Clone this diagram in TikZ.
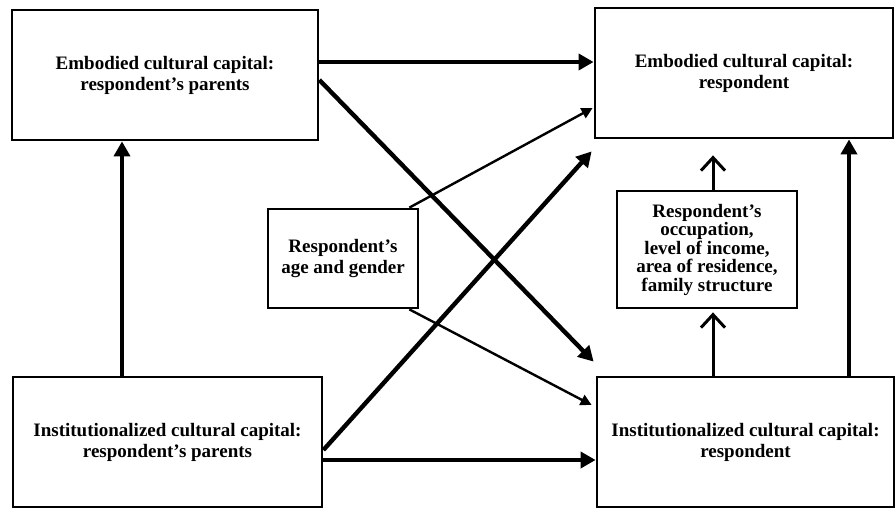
\documentclass[tikz,border=0pt]{standalone}
\usepackage{fontspec}
\setmainfont{Liberation Serif}
\usetikzlibrary{arrows.meta,positioning,calc}
\tikzstyle{capitalbox}=[draw,line width=2.8pt,align=center,font=\bfseries\fontsize{19}{21}\selectfont]
\tikzstyle{thickarc}=[line width=4.4pt,-{Triangle[length=15pt,width=16pt]}]
\tikzstyle{thinarc}=[line width=2.4pt,-{Triangle[length=11pt,width=11pt]}]
\tikzstyle{openarc}=[line width=3pt,-{Straight Barb[length=13pt,width=24pt]}]

\begin{document}
\begin{tikzpicture}[x=1pt,y=-1pt]
\useasboundingbox (0,0) rectangle (896,511);

\node[capitalbox,minimum width=306pt,minimum height=130pt] (B1) at (165,75) {Embodied cultural capital:\\respondent’s parents};
\node[capitalbox,minimum width=298pt,minimum height=130pt] (B2) at (744,73) {Embodied cultural capital:\\respondent};
\node[capitalbox,minimum width=309pt,minimum height=130pt] (B3) at (167.5,442) {Institutionalized cultural capital:\\respondent’s parents};
\node[capitalbox,minimum width=297pt,minimum height=130pt] (B4) at (745.5,442) {Institutionalized cultural capital:\\respondent};
\node[capitalbox,minimum width=150pt,minimum height=99pt] (AG) at (343,258.5) {Respondent’s\\age and gender};
\node[capitalbox,minimum width=180pt,minimum height=117pt,font=\bfseries\fontsize{19}{18.5}\selectfont] (OC) at (707,249.5) {Respondent’s\\occupation,\\level of income,\\area of residence,\\family structure};

\coordinate (B1E1) at ($(B1.east)+(0,-13)$);
\coordinate (B1E2) at ($(B1.east)+(0,5)$);
\coordinate (B3E1) at ($(B3.east)+(0,8)$);
\coordinate (B3E2) at ($(B3.east)+(0,18)$);
\coordinate (B3N) at ($(B3.north)+(-45.5,0)$);
\coordinate (B4N1) at ($(B4.north)+(-32.5,0)$);
\coordinate (B4N2) at ($(B4.north)+(103.5,0)$);
\coordinate (B2SW) at ($(B2.south west)+(-2,12)$);
\coordinate (B2W) at ($(B2.west)+(-1,35)$);
\coordinate (B4NW) at ($(B4.north west)+(-2,-14)$);
\coordinate (B4W) at ($(B4.west)+(-4,-37)$);
\coordinate (AGNE) at ($(AG.north east)+(-10,0)$);
\coordinate (AGSE) at ($(AG.south east)+(-10,0)$);

\draw[thickarc] (B1E1) -- (B2.west |- B1E1);
\draw[thickarc] (B1E2) -- (B4NW);
\draw[thickarc] (B3E1) -- (B2SW);
\draw[thickarc] (B3E2) -- (B4.west |- B3E2);
\draw[thickarc] (B3N) -- (B1.south -| B3N);
\draw[thickarc] (B4N2) -- (B2.south -| B4N2);

\draw[thinarc] (AGNE) -- (B2W);
\draw[thinarc] (AGSE) -- (B4W);

\draw[openarc,shorten >=3pt] (B4N1) -- (OC.south -| B4N1);
\draw[openarc,shorten >=16pt] (OC.north -| B4N1) -- (B2.south -| B4N1);

\end{tikzpicture}
\end{document}
